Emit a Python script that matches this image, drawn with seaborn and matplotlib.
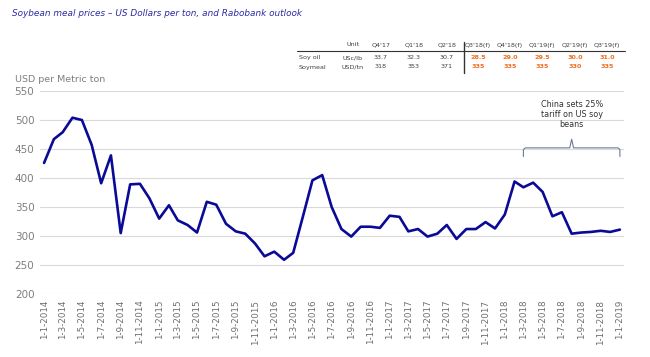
import matplotlib
matplotlib.use("Agg")
import matplotlib.pyplot as plt
import pandas as pd
import seaborn as sns

# monthly soybean meal price, Jan 2014 - Jan 2019 (USD per metric ton)
months = pd.date_range("2014-01-01", "2019-01-01", freq="MS")
prices = [426, 467, 479, 504, 500, 457, 391, 439, 305, 389, 390, 365,
          330, 353, 327, 319, 306, 359, 354, 321, 308, 304, 287, 265,
          273, 259, 271, 334, 396, 405, 350, 312, 299, 316, 316, 314,
          335, 333, 308, 312, 299, 304, 319, 295, 312, 312, 324, 313,
          337, 394, 384, 392, 376, 334, 341, 304, 306, 307, 309, 307,
          311]

# outlook table
col_heads = ["Unit", "Q4'17", "Q1'18", "Q2'18", "Q3'18(f)", "Q4'18(f)",
             "Q1'19(f)", "Q2'19(f)", "Q3'19(f)"]
soy_oil = ["USc/lb", "33.7", "32.3", "30.7", "28.5", "29.0", "29.5", "30.0", "31.0"]
soymeal = ["USD/tn", "318", "353", "371", "335", "335", "335", "330", "335"]

df = pd.DataFrame({"month": months, "price": prices})

sns.set_style("white")
plt.rcParams["font.family"] = ["DejaVu Sans"]

fig = plt.figure(figsize=(6.5, 3.57), dpi=100)
ax = fig.add_axes([0.0615, 0.1765, 0.8985, 0.5685])

sns.lineplot(data=df, x="month", y="price", ax=ax, color="#0a0a96", linewidth=1.9)

pad = pd.Timedelta(days=13)
ax.set_xlim(months[0] - pad, months[-1] + pad)
ax.set_ylim(200, 550)
ax.set_yticks(range(200, 551, 50))
ax.yaxis.grid(True, color="#d9d9d9", linewidth=0.8)
ax.xaxis.grid(False)
for s in ax.spines.values():
    s.set_visible(False)

ticks = months[::2]
ax.set_xticks(ticks)
ax.set_xticklabels([f"1-{d.month}-{d.year}" for d in ticks], rotation=90,
                   fontsize=6.3, color="#6e6e6e")
ax.tick_params(axis="y", labelsize=7.5, labelcolor="#7f7f7f", length=0, pad=4)
ax.tick_params(axis="x", length=0, pad=4)
ax.set_xlabel("")
ax.set_ylabel("")

fig.text(0.023, 0.77, "USD per Metric ton", fontsize=6.8, color="#7f7f7f")
fig.text(0.018, 0.955, "Soybean meal prices \u2013 US Dollars per ton, and Rabobank outlook",
         fontsize=6.4, style="italic", color="#2b2ba6")

# tariff bracket
x0, x1 = months[50], months[-1]
xm = x0 + (x1 - x0) / 2
d = pd.Timedelta(days=6)
bx = [x0, x0, x0 + d, xm - d, xm, xm + d, x1 - d, x1, x1]
by = [437, 449, 452, 452, 467, 452, 452, 449, 437]
ax.plot(bx, by, color="#6b7a99", linewidth=0.8, clip_on=False)
ax.text(xm, 485, "China sets 25%\ntariff on US soy\nbeans", ha="center", va="bottom",
        fontsize=5.8, color="#333333", linespacing=1.15)

# outlook table
col_x = [353, 381, 414, 447, 478, 510, 542, 575, 607]
def fx(px):
    return px / 650
def fy(py):
    return 1 - py / 357
for i, h in enumerate(col_heads):
    fig.text(fx(col_x[i]), fy(45), h, fontsize=4.6, ha="center", va="center", color="#404040")
fig.text(fx(299), fy(57.5), "Soy oil", fontsize=4.6, va="center", color="#404040")
fig.text(fx(299), fy(67), "Soymeal", fontsize=4.6, va="center", color="#404040")
for i in range(len(col_heads)):
    clr = "#ef6c1f" if i >= 4 else "#404040"
    wt = "bold" if i >= 4 else "normal"
    fig.text(fx(col_x[i]), fy(57.5), soy_oil[i], fontsize=4.6, ha="center", va="center",
             color=clr, fontweight=wt)
    fig.text(fx(col_x[i]), fy(67), soymeal[i], fontsize=4.6, ha="center", va="center",
             color=clr, fontweight=wt)
fig.add_artist(plt.Line2D([fx(297), fx(625)], [fy(51), fy(51)], color="#333333", linewidth=0.8))
fig.add_artist(plt.Line2D([fx(464), fx(464)], [fy(42), fy(73)], color="#333333", linewidth=1.0))

fig.savefig("out.png", dpi=100)
